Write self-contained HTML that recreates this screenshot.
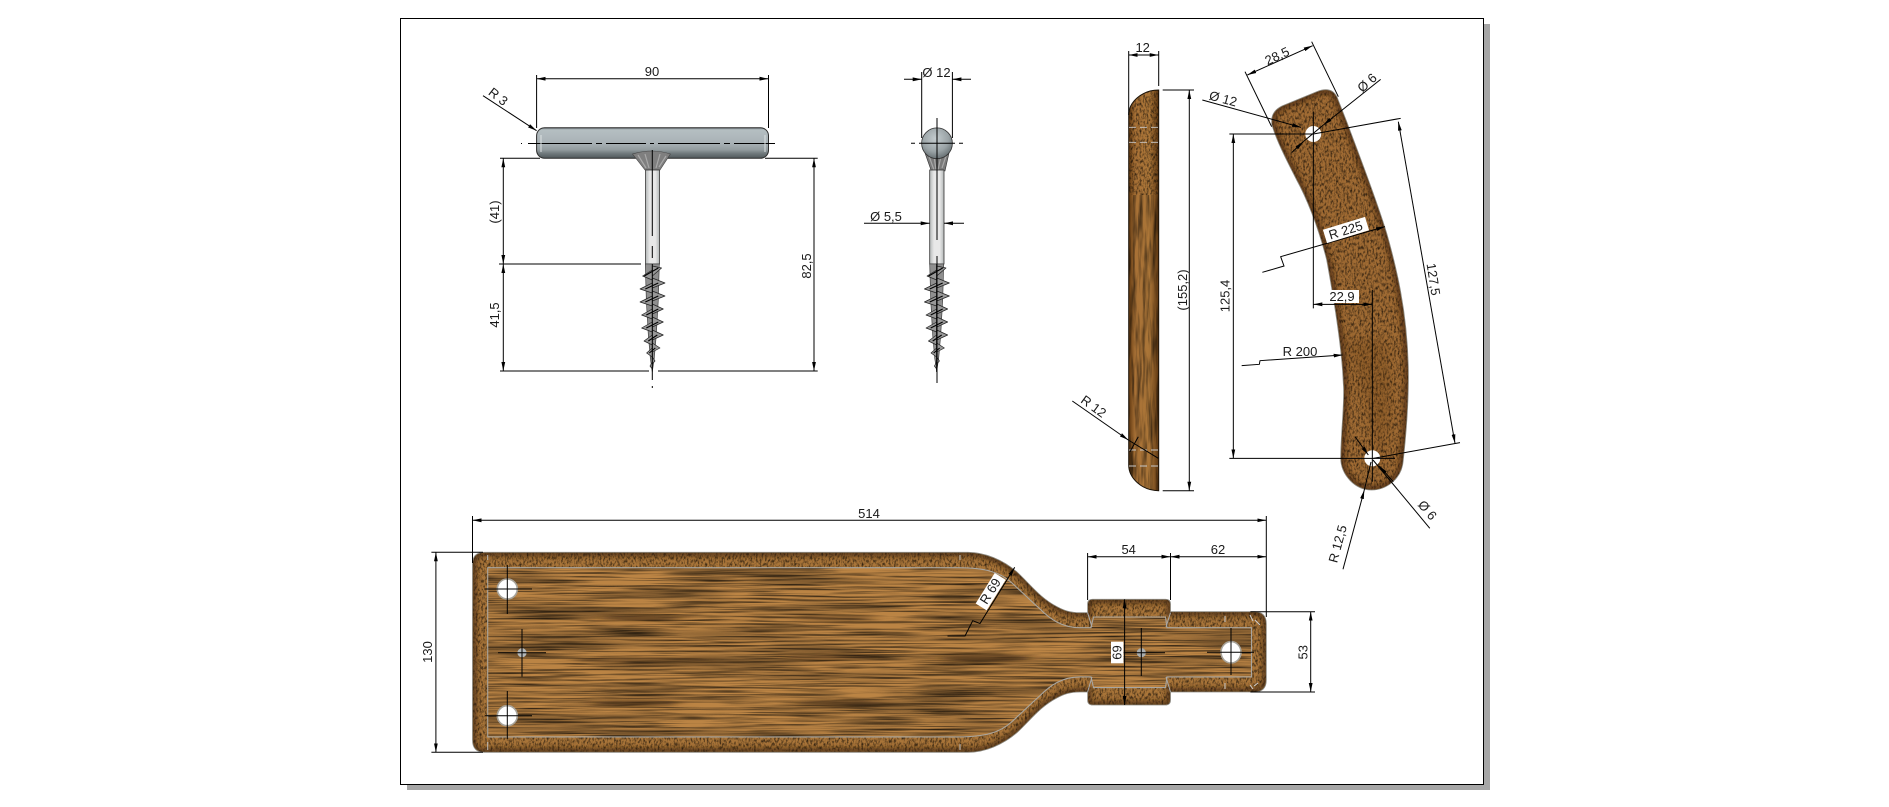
<!DOCTYPE html>
<html><head><meta charset="utf-8"><style>
html,body{margin:0;padding:0;background:#fff}
svg{display:block}
text{font-family:"Liberation Sans",sans-serif;font-size:13px;fill:#1a1a1a;text-anchor:middle}
.l{stroke:#000;stroke-width:1;fill:none}
.a{stroke:#000;stroke-width:1;fill:none;marker-start:url(#ar);marker-end:url(#ar)}
.e{stroke:#000;stroke-width:1;fill:none;marker-end:url(#ar)}
.g .l,.g .a,.g .e{stroke-width:3}
</style></head><body>
<svg width="1889" height="807" viewBox="0 0 1889 807" xmlns="http://www.w3.org/2000/svg">
<defs>
<marker id="ar" viewBox="0 0 9 5" refX="9" refY="2.5" markerWidth="9" markerHeight="5" orient="auto-start-reverse"><path d="M0 .6L9 2.5L0 4.4Z" fill="#000"/></marker>
<filter id="grainH" x="0" y="0" width="1" height="1" color-interpolation-filters="sRGB">
<feTurbulence type="fractalNoise" baseFrequency="0.012 0.55" numOctaves="3" seed="11"/>
<feColorMatrix values="1.8 0 0 0 -.06 1.8 0 0 0 -.06 1.8 0 0 0 -.06 0 0 0 0 1" result="n1"/>
<feTurbulence type="fractalNoise" baseFrequency="0.006 0.07" numOctaves="2" seed="23"/>
<feColorMatrix values="1.1 0 0 0 .42 1.1 0 0 0 .42 1.1 0 0 0 .42 0 0 0 0 1" result="n2"/>
<feBlend in="n1" in2="n2" mode="multiply" result="n"/>
<feBlend in="SourceGraphic" in2="n" mode="multiply"/><feComposite in2="SourceAlpha" operator="in"/></filter>
<filter id="speck" x="0" y="0" width="1" height="1" color-interpolation-filters="sRGB">
<feTurbulence type="fractalNoise" baseFrequency="0.55 0.3" numOctaves="3" seed="4"/>
<feColorMatrix values="1.7 0 0 0 .02 1.7 0 0 0 .02 1.7 0 0 0 .02 0 0 0 0 1" result="n"/>
<feBlend in="SourceGraphic" in2="n" mode="multiply"/><feComposite in2="SourceAlpha" operator="in"/></filter>
<filter id="grainV" x="0" y="0" width="1" height="1" color-interpolation-filters="sRGB">
<feTurbulence type="fractalNoise" baseFrequency="0.3 0.025" numOctaves="3" seed="8"/>
<feColorMatrix values="1.4 0 0 0 .16 1.4 0 0 0 .16 1.4 0 0 0 .16 0 0 0 0 1" result="n"/>
<feBlend in="SourceGraphic" in2="n" mode="multiply"/><feComposite in2="SourceAlpha" operator="in"/></filter>
<filter id="bl"><feGaussianBlur stdDeviation="2.5"/></filter>
<filter id="bl2"><feGaussianBlur stdDeviation="5"/></filter>
<filter id="st" x="-20%" y="-300%" width="140%" height="700%"><feGaussianBlur stdDeviation="8 1.2"/></filter>
<linearGradient id="bar" x1="0" y1="0" x2="0" y2="1">
<stop offset="0" stop-color="#6f797d"/><stop offset=".07" stop-color="#b5bfc2"/><stop offset=".5" stop-color="#a9b2b6"/><stop offset=".72" stop-color="#939c9f"/><stop offset=".85" stop-color="#6e777a"/><stop offset="1" stop-color="#50585a"/></linearGradient>
<radialGradient id="ball" cx=".45" cy=".35" r=".7"><stop offset="0" stop-color="#c4cccf"/><stop offset=".6" stop-color="#9aa3a6"/><stop offset="1" stop-color="#5e676a"/></radialGradient>
<linearGradient id="shaft" x1="0" y1="0" x2="1" y2="0"><stop offset="0" stop-color="#b4b8b8"/><stop offset=".3" stop-color="#e8e8e8"/><stop offset=".7" stop-color="#e8e8e8"/><stop offset="1" stop-color="#b4b8b8"/></linearGradient>
<linearGradient id="side" x1="0" y1="0" x2="1" y2="0"><stop offset="0" stop-color="#603810"/><stop offset=".22" stop-color="#a87136"/><stop offset=".7" stop-color="#ab7638"/><stop offset="1" stop-color="#5d3610"/></linearGradient>
<path id="bot" d="M484.5 552.3H968C985 552.3 1003 560 1017 572C1030 584 1040 598 1057 606.7C1064 610.5 1070 612.7 1080 612.7H1087.6V604Q1087.6 599.3 1092.6 599.3H1165.5Q1170.5 599.3 1170.5 604V611.7H1254Q1266.3 611.7 1266.3 624V680Q1266.3 692 1254 692H1170.5V700Q1170.5 705 1165.5 705H1092.6Q1087.6 705 1087.6 700V692H1080C1070 692 1064 694 1057 697.9C1040 706.6 1030 720.6 1017 732.6C1003 744.6 985 752.3 968 752.3H484.5Q472.5 752.3 472.5 740V564Q472.5 552.3 484.5 552.3Z"/>
<path id="inr" d="M487.7 567.7H958C985 567.7 1000 572 1012 583C1024 594 1030 600 1040 609C1050 619 1062 627.7 1080 627.7H1091L1093.5 617H1165.5L1167 627.7H1251.5V676.9H1167L1165.5 687.6H1093.5L1091 676.9H1080C1062 676.9 1050 685.6 1040 695.6C1030 704.6 1024 710.6 1012 721.6C1000 732.6 985 736.9 958 736.9H487.7Z"/>
<path id="hdl" d="M1271.7 120C1272 113 1276 109 1282 106L1316.7 91.7C1326 88 1333 89 1337 97L1346.7 121.7C1358 152 1376 198 1386.7 233.3C1396 266 1407 310 1408.3 366.7C1409 400 1406 435 1403.3 460C1402 480 1385 490 1371.7 490C1355 490 1341 475 1340.7 458.3C1341 430 1345 400 1343.3 383.3C1342 350 1335 305 1326.7 260C1318 225 1305 195 1296.7 180C1288 163 1276 140 1271.7 124Z"/>
<clipPath id="cb"><use href="#bot"/></clipPath>
<clipPath id="ch"><use href="#hdl"/></clipPath>
<clipPath id="ci"><use href="#inr"/></clipPath>
<g id="screw">
<path d="M-7 264H7L6 300L4 335L2 358L0 372L-2 358L-4 335L-6 300Z" fill="#8f8f8f" stroke="#333" stroke-width=".6"/>
<g fill="#989898" stroke="#222" stroke-width=".7" stroke-linejoin="round">
<path d="M-9.7 276L0 270L0 280ZM9.3 268L0 266L0 276Z"/>
<path d="M-12.3 289L0 283L0 293ZM12.7 283L0 278L0 288Z"/>
<path d="M-12.3 302L0 296L0 306ZM12.7 296L0 291L0 301Z"/>
<path d="M-10.7 315L0 309L0 319ZM11 309L0 304L0 314Z"/>
<path d="M-10.7 328L0 322L0 332ZM11 322L0 317L0 327Z"/>
<path d="M-8.3 341L0 335L0 345ZM11 335L0 330L0 340Z"/>
<path d="M-5.7 353L0 348L0 357ZM7.7 348L0 343L0 352Z"/>
<path d="M-2.3 366L0 362L0 369ZM2.7 361L0 357L0 364Z"/>
</g>
<path d="M-8 276L6 268M-7 289L6 283M-7 302L6 296M-6 315L6 309M-6 328L6 322M-4 341L5 335M-3 353L3 348" stroke="#000" stroke-width="1.1" fill="none"/>
<path d="M0 264V372" stroke="#000" fill="none"/>
</g>
</defs>

<rect x="407" y="24" width="1083" height="766" fill="#a6a6a6"/>
<rect x="400.5" y="18.5" width="1083" height="766" fill="#fff" stroke="#000"/>

<!-- VIEW 1 -->
<rect x="536.6" y="127.7" width="231.9" height="30.6" rx="8" fill="url(#bar)" stroke="#2a2a2a"/>
<path d="M632.5 154Q652 148 670.4 154L660 170H645Z" fill="#7f7f7f" stroke="#444" stroke-width=".6"/>
<path d="M638 155l8 13M645 154l4 14M660 154l-4 14M666 156l-7 11" stroke="#a9a9a9" stroke-width="1.2"/>
<rect x="645.6" y="170" width="13.9" height="94" fill="url(#shaft)" stroke="#333" stroke-width=".8"/>
<use href="#screw" x="652.3"/>
<path d="M652.3 150V236M652.3 246V258M652.3 372V380M652.3 386V388" class="l"/>
<path d="M521 143.5H522M528 143.5H592M596 143.5H602M606 143.5H646M650 143.5H654M658 143.5H720M724 143.5H730M734 143.5H775" class="l"/>
<path d="M541 135V152M765 135V152" stroke="#dfe4e5" stroke-width="1.2" opacity=".8"/>

<path d="M536.6 75V128M768.5 75V128" class="l"/>
<path d="M536.6 78.7H768.5" class="a"/><text x="652" y="76">90</text>
<path d="M483 95.7L536.6 130.7" class="e"/>
<text x="498" y="101" transform="rotate(38 498 97)">R 3</text>
<path d="M500 158.3H540M765 158.3H817.7M499 264H641M500 371H649M658 371H817.7" class="l"/>
<path d="M503.3 158.3V264" class="a"/><path d="M503.3 264V371" class="a"/>
<path d="M814 158.3V371" class="a"/>
<text transform="translate(499 212) rotate(-90)">(41)</text>
<text transform="translate(499 315) rotate(-90)">41,5</text>
<text transform="translate(811 266) rotate(-90)">82,5</text>

<!-- VIEW 2 -->
<path d="M925 153L949 153L945 171H931.3Z" fill="#7a7a7a" stroke="#333" stroke-width=".6"/>
<path d="M929 156l5 14M934 156l2 14M941 156l-3 14M946 156l-4 12" stroke="#a8a8a8" stroke-width="1.2"/>
<rect x="929.7" y="170" width="14.3" height="94" fill="url(#shaft)" stroke="#333" stroke-width=".8"/>
<circle cx="937" cy="143.3" r="15.4" fill="url(#ball)" stroke="#333" stroke-width=".8"/>
<use href="#screw" x="936.7"/>
<path d="M937 118V240M937 256V383M911 143.3H915M919 143.3H955M959 143.3H963" class="l"/>
<path d="M921.7 72V138M952.4 72V138" class="l"/>
<path d="M904 79.3H921.7" class="e"/><path d="M971 79.3H952.4" class="e"/>
<text x="936.5" y="77">Ø 12</text>
<path d="M864 223.3H929.7" class="e"/><path d="M964 223.3H944" class="e"/>
<text x="886" y="221">Ø 5,5</text>

<!-- VIEW 3 -->
<path d="M1158.7 90C1142 90 1128.7 102 1128.7 115V465C1128.7 478 1142 490.7 1158.7 490.7Z" fill="url(#side)" filter="url(#grainV)"/>
<path d="M1158.7 90C1142 90 1128.7 102 1128.7 115V195H1158.7Z" fill="url(#side)" filter="url(#speck)"/>
<path d="M1158.7 90C1142 90 1128.7 102 1128.7 115V465C1128.7 478 1142 490.7 1158.7 490.7Z" fill="none" stroke="#1a1208" stroke-width="1"/>
<path d="M1129 127.3H1159M1129 142.3H1159M1129 450H1159M1129 466H1159" stroke="#c9c9c9" stroke-dasharray="7 4" stroke-width=".9"/>
<path d="M1128.7 51V115M1158.7 51V86" class="l"/>
<path d="M1128.7 55H1158.7" class="a"/><text x="1142.7" y="52">12</text>
<path d="M1162.7 90H1194M1162.7 490.7H1194" class="l"/>
<path d="M1189.3 90V490.7" class="a"/>
<text transform="translate(1187 290) rotate(-90)">(155,2)</text>
<path d="M1072.3 401L1128.3 440" class="e"/>
<path d="M1128.3 440L1158.3 458.3M1138.3 436.7L1130 451.7" class="l"/>
<text transform="translate(1091 410) rotate(36)">R 12</text>

<!-- VIEW 4 -->
<use href="#hdl" fill="#a06b33" filter="url(#speck)"/>
<g clip-path="url(#ch)">
<path d="M1344 340C1360 380 1375 420 1378 470C1392 430 1396 380 1385 340Z" fill="#5c3410" opacity=".22" filter="url(#bl2)"/>
<use href="#hdl" fill="none" stroke="#3d2208" stroke-width="9" filter="url(#bl)" opacity=".6"/>
</g>
<use href="#hdl" fill="none" stroke="#8d8a82" stroke-width=".8"/>
<circle cx="1313.3" cy="134" r="8" fill="#fff"/>
<circle cx="1372.3" cy="458.3" r="8" fill="#fff"/>
<g class="g" transform="translate(1040 0) scale(.33333)">
<path d="M820 335V925M997 870V1445M568 402H820M568 1375H1065" class="l"/>
<path d="M580 402V1375" class="a"/>
<path d="M820 913H997" class="a"/>
<path d="M820 402L1082 355M1000 1375L1260 1328" class="l"/>
<path d="M1075 365L1245 1330" class="a"/>
<path d="M622 225L818 137" class="a"/>
<path d="M615 215L695 380M815 125L895 290" class="l"/>
<path d="M755 458L790 425" class="e"/>
<path d="M1022 238L850 375" class="e"/>
<path d="M790 425L850 375" class="l"/>
<path d="M487 300L783 382" class="e"/>
<path d="M667 817L732 798L722 770L1035 680" class="e"/>
<path d="M605 1097L658 1093L660 1082L908 1065" class="e"/>
<path d="M945 1310L985 1365" class="e"/>
<path d="M1120 1470L1025 1412" class="l" style="display:none"/>
<path d="M1060 1445L1018 1398" class="e"/>
</g>
<rect x="1327" y="290" width="32" height="13" fill="#fff"/><text x="1342" y="301">22,9</text>
<rect x="0" y="0" width="44" height="14" fill="#fff" transform="translate(1346 230) rotate(-17) translate(-22 -7)"/>
<text transform="translate(1347 234.5) rotate(-17)">R 225</text>
<text x="1300" y="356">R 200</text>
<text transform="translate(1222 103) rotate(15)">Ø 12</text>
<text transform="translate(1279 60) rotate(-25)">28,5</text>
<text transform="translate(1370 86) rotate(-42)">Ø 6</text>
<text transform="translate(1424 513) rotate(50)">Ø 6</text>
<text transform="translate(1429 280) rotate(81)">127,5</text>
<text transform="translate(1229.5 296) rotate(-90)">125,4</text>
<path d="M1364.3 490L1343 569.3" class="l" style="marker-start:url(#ar)"/>
<path d="M1364.3 490L1371 462" class="l"/>
<text transform="translate(1342 545) rotate(-75)">R 12,5</text>
<path d="M1373 460L1429.8 528.3" class="l"/>

<!-- BOTTLE -->
<use href="#bot" fill="#a97539" filter="url(#speck)"/>
<g clip-path="url(#cb)">
<use href="#bot" fill="none" stroke="#3a2108" stroke-width="9" filter="url(#bl)" opacity=".6"/>
</g>
<use href="#inr" fill="#bb8444" filter="url(#grainH)"/>
<g clip-path="url(#ci)" fill="#2e1a08">
<ellipse cx="640" cy="618" rx="42" ry="3" filter="url(#st)" opacity=".55"/>
<ellipse cx="636" cy="703" rx="42" ry="3" filter="url(#st)" opacity=".55"/>
<ellipse cx="835" cy="618" rx="40" ry="3" filter="url(#st)" opacity=".35"/>
<ellipse cx="830" cy="657" rx="45" ry="3" filter="url(#st)" opacity=".4"/>
<ellipse cx="840" cy="703" rx="45" ry="3" filter="url(#st)" opacity=".35"/>
<ellipse cx="985" cy="658" rx="45" ry="4" filter="url(#st)" opacity=".5"/>
<ellipse cx="640" cy="660" rx="70" ry="3" filter="url(#st)" opacity=".3"/>
</g>
<use href="#inr" fill="none" stroke="#a9a6a0" stroke-width="1.1"/>
<use href="#bot" fill="none" stroke="#8d8a82" stroke-width=".8"/>
<path d="M487.7 555V560M487.7 742V750M960 555V560M960 744V750" stroke="#bbb" stroke-width="1"/>
<path d="M1087.6 612.7L1092 627M1170.5 612.7L1166 627M1087.6 692L1092 677M1170.5 692L1166 677" stroke="#aaa" stroke-width="1"/>
<path d="M1255 620l5 5M1250 615l3 6M1258 683l-4 3M1250 685l3 4M1225 616v6M1225 683v6" stroke="#ccc" stroke-width="1"/>

<ellipse cx="507.3" cy="589" rx="10" ry="10" fill="#fff" stroke="#a7a39a" stroke-width="1.6"/>
<ellipse cx="507.3" cy="715.7" rx="10" ry="10" fill="#fff" stroke="#a7a39a" stroke-width="1.6"/>
<ellipse cx="1231" cy="652.3" rx="10" ry="10.7" fill="#fff" stroke="#a7a39a" stroke-width="1.6"/>
<circle cx="522" cy="652.7" r="4.6" fill="#b4b8ba"/>
<circle cx="1141.3" cy="652.7" r="4.6" fill="#a9adaf"/>
<path d="M484.4 589H532M507.3 565V614M485 715.7H532M507.3 691V739M498 652.7H546M522 629V676.7M1116.5 652.7H1165M1141.3 628V676M1207 652.3H1254M1231 628V675" class="l"/>

<path d="M472.5 516V563M1266.3 516V617M1087.6 553V600M1170.5 553V600M431.4 552.3H483M431.4 752.3H483M1250.4 611.7H1315M1250.4 692H1315" class="l"/>
<path d="M472.5 520.3H1266.3" class="a"/><text x="869" y="518">514</text>
<path d="M435.9 552.3V752.3" class="a"/>
<text transform="translate(432 652) rotate(-90)">130</text>
<path d="M1087.6 556.7H1170.5" class="a"/><text x="1128.7" y="554">54</text>
<path d="M1170.5 556.7H1266.3" class="a"/><text x="1218" y="554">62</text>
<path d="M1310.7 611.7V692" class="a"/>
<text transform="translate(1307.5 652.3) rotate(-90)">53</text>
<path d="M1124.6 599.3V705" class="a"/>
<rect x="1111" y="641.7" width="12.5" height="21.6" fill="#fff"/>
<text transform="translate(1121.5 652.5) rotate(-90)">69</text>
<path d="M947.5 636H965L972.7 620.7L980 623.5L1014.7 567.3" class="e"/>
<rect x="0" y="0" width="36" height="13" fill="#fff" transform="translate(990.7 591.7) rotate(-58) translate(-18 -6.5)"/>
<text transform="translate(994 593.5) rotate(-58)">R 69</text>
</svg>
</body></html>
